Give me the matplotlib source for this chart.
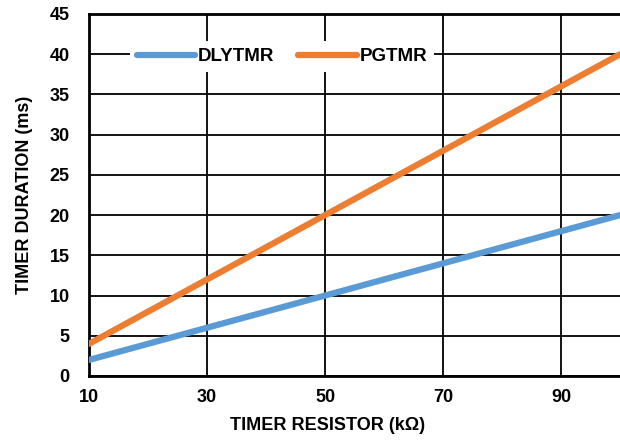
import matplotlib
matplotlib.use("Agg")
import matplotlib.pyplot as plt

resistor_kohm = [10, 20, 30, 40, 50, 60, 70, 80, 90, 100]
dlytmr_ms = [2, 4, 6, 8, 10, 12, 14, 16, 18, 20]
pgtmr_ms = [4, 8, 12, 16, 20, 24, 28, 32, 36, 40]
x_ticks = [10, 30, 50, 70, 90]
y_ticks = [0, 5, 10, 15, 20, 25, 30, 35, 40, 45]

plt.rcParams['font.family'] = ['Liberation Sans', 'DejaVu Sans']
plt.rcParams['font.weight'] = 'bold'

fig = plt.figure(figsize=(6.2, 4.41), dpi=100)
ax = fig.add_axes([89/620, 1 - 376/441, 531/620, 362/441])

ax.plot(resistor_kohm, dlytmr_ms, color='#5B9BD5', lw=4.5, label='DLYTMR', solid_capstyle='round', zorder=3)
ax.plot(resistor_kohm, pgtmr_ms, color='#ED7D31', lw=4.5, label='PGTMR', solid_capstyle='round', zorder=3)

ax.set_xlim(10, 100)
ax.set_ylim(0, 45)
ax.set_xticks(x_ticks)
ax.set_yticks(y_ticks)
ax.grid(True, color='black', lw=1.3, zorder=1)
ax.tick_params(length=0, labelsize=13)
ax.tick_params(axis='x', pad=9)
ax.tick_params(axis='y', pad=14)
for lbl in ax.get_xticklabels() + ax.get_yticklabels():
    lbl.set_fontweight('bold')
for s in ['top', 'left', 'bottom']:
    ax.spines[s].set_linewidth(2)
ax.spines['right'].set_visible(False)

ax.set_xlabel('TIMER RESISTOR (kΩ)', fontsize=13, fontweight='bold')
ax.xaxis.set_label_coords(0.45, -0.112)
ax.set_ylabel('TIMER DURATION (ms)', fontsize=13, fontweight='bold', labelpad=12)

leg = ax.legend(loc='upper left', bbox_to_anchor=(0.06, 0.95), ncol=2, frameon=True,
                fancybox=False, edgecolor='none', framealpha=1, fontsize=13.5,
                handlelength=3.1, handletextpad=0.15, columnspacing=1.3, borderpad=0.35)
for t in leg.get_texts():
    t.set_fontweight('bold')

fig.savefig('out.png', dpi=100)
